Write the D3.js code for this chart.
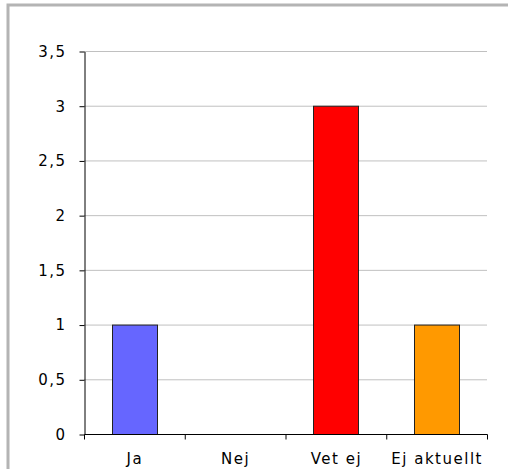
<!DOCTYPE html>
<html><head><meta charset="utf-8">
<script src="https://cdn.jsdelivr.net/npm/d3@7"></script>
<style>body{margin:0;background:#fff}svg{display:block}</style>
</head><body>
<script>
const categories = ["Ja", "Nej", "Vet ej", "Ej aktuellt"];
const values = [1, 0, 3, 1];
const colors = ["#6666ff", "#ffffff", "#ff0000", "#ff9900"];
const yTicks = [0, 0.5, 1, 1.5, 2, 2.5, 3, 3.5];
const fmt = d => String(d).replace(".", ",");

(function () {
const W = 508, H = 469;
const FONT = "DejaVu Sans, Verdana, sans-serif";
const svg = d3.select("body").append("svg").attr("width", W).attr("height", H);
// frame
svg.append("rect").attr("x", 8).attr("y", 5).attr("width", W + 10).attr("height", H + 10)
  .attr("fill", "#fff").attr("stroke", "#b4b4b4").attr("stroke-width", 3);

const pl = 84, pr = 487, pt = 51, pb = 434;
const x = d3.scaleBand().domain(categories).range([pl, pr]).paddingInner(0.55).paddingOuter(0.275);
const xb = d3.scaleBand().domain(categories).range([pl, pr]);
const y = d3.scaleLinear().domain([0, 3.5]).range([pb, pt]);

// grid
svg.append("g").selectAll("line").data(yTicks.filter(d => d > 0)).join("line")
  .attr("x1", pl).attr("x2", pr).attr("y1", d => y(d) + 0.5).attr("y2", d => y(d) + 0.5)
  .attr("stroke", "#c0c0c0").attr("stroke-width", 1);

// bars
svg.append("g").selectAll("rect").data(categories.map((c, i) => ({c, v: values[i], col: colors[i]})).filter(d => d.v > 0))
  .join("rect")
  .attr("x", d => Math.round(x(d.c)) + 0.5).attr("y", d => y(d.v) + 0.5)
  .attr("width", d => Math.round(x.bandwidth())).attr("height", d => y(0) - y(d.v))
  .attr("fill", d => d.col).attr("stroke", "#222").attr("stroke-width", 1);

// y axis
const ya = svg.append("g").attr("transform", `translate(${pl + 0.5},0.5)`)
  .call(d3.axisLeft(y).tickValues(yTicks).tickFormat(fmt).tickSize(5).tickSizeOuter(0).tickPadding(13));
ya.select(".domain").attr("stroke", "#000");
ya.selectAll("line").attr("stroke", "#000");
ya.selectAll("text").attr("font-family", FONT).attr("font-size", 15)
  .attr("letter-spacing", "1.5px").attr("fill", "#000");

// x axis
const xa = svg.append("g").attr("transform", `translate(0.5,${pb + 0.5})`);
xa.append("line").attr("x1", pl).attr("x2", pr).attr("stroke", "#000");
const tickPos = categories.map(c => xb(c)).concat([pr]);
xa.selectAll("line.t").data(tickPos).join("line").attr("class", "t")
  .attr("x1", d => d).attr("x2", d => d).attr("y1", 0).attr("y2", 5).attr("stroke", "#000");
xa.selectAll("text").data(categories).join("text")
  .attr("x", d => xb(d) + xb.bandwidth() / 2).attr("y", 29)
  .attr("text-anchor", "middle")
  .attr("font-family", FONT).attr("font-size", 15).attr("letter-spacing", "1.5px").attr("fill", "#000")
  .text(d => d);
})();
</script>
</body></html>
